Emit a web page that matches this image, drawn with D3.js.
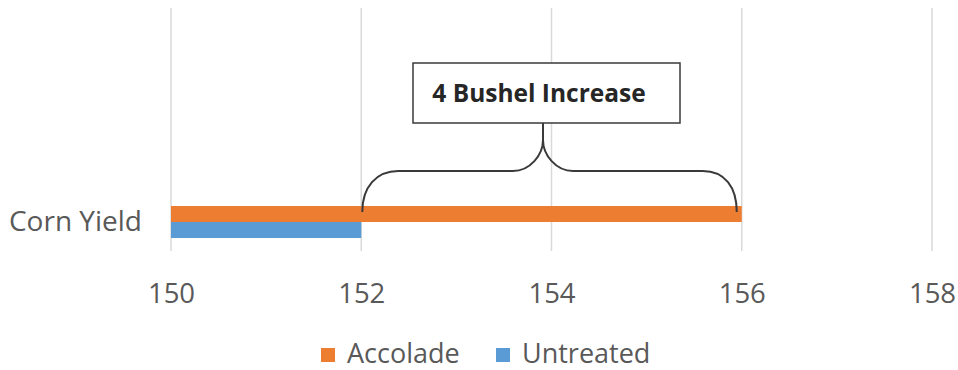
<!DOCTYPE html>
<html>
<head>
<meta charset="utf-8">
<script src="https://cdn.jsdelivr.net/npm/d3@7"></script>
<style>
  html, body { margin: 0; padding: 0; background: #fff; }
  svg { display: block; }
  text { font-family: "Open Sans", "Liberation Sans", sans-serif; }
</style>
</head>
<body>
<svg id="chart" width="958" height="370"></svg>
<script>
const categories = ["Corn Yield"];
const seriesNames = ["Accolade", "Untreated"];
const accoladeValues = [156];
const untreatedValues = [152];
const xTicks = [150, 152, 154, 156, 158];
const annotationText = "4 Bushel Increase";
const colors = ["#ED7D31", "#5B9BD5"];

const svg = d3.select("#chart");
const x = d3.scaleLinear().domain([150, 158]).range([171, 932]);
const gridTop = 8, gridBottom = 251;

const y = d3.scaleBand().domain(categories).range([206, 238]).padding(0);
const ySub = d3.scaleBand().domain(seriesNames).range([0, y.bandwidth()]).padding(0);

// gridlines
svg.append("g").selectAll("line").data(xTicks).join("line")
  .attr("x1", d => x(d)).attr("x2", d => x(d))
  .attr("y1", gridTop).attr("y2", gridBottom)
  .attr("stroke", "#d9d9d9").attr("stroke-width", 1.5);

// x axis labels
const xAxis = d3.axisBottom(x).tickValues(xTicks).tickSize(0).tickPadding(0);
const gx = svg.append("g").attr("transform", `translate(0,${gridBottom + 32})`).call(xAxis);
gx.select(".domain").remove();
gx.selectAll("text").attr("fill", "#595959").attr("font-size", 27.5)
  .attr("font-family", "Open Sans, Liberation Sans, sans-serif").attr("dy", "0.71em");

// category label
const yAxis = d3.axisLeft(y).tickSize(0).tickPadding(29);
const gy = svg.append("g").attr("transform", `translate(${x(150)},0)`).call(yAxis);
gy.select(".domain").remove();
gy.selectAll("text").attr("fill", "#595959").attr("font-size", 28)
  .attr("font-family", "Open Sans, Liberation Sans, sans-serif");

// bars
const rows = categories.map((c, i) => ({ cat: c, vals: [accoladeValues[i], untreatedValues[i]] }));
const g = svg.append("g");
rows.forEach(r => {
  g.selectAll(null).data(seriesNames.map((s, j) => ({ s, v: r.vals[j], j }))).join("rect")
    .attr("x", x(150))
    .attr("y", d => y(r.cat) + ySub(d.s))
    .attr("width", d => x(d.v) - x(150))
    .attr("height", ySub.bandwidth())
    .attr("fill", d => colors[d.j]);
});

// annotation: brace between untreated and accolade values
const xl = x(untreatedValues[0]) + 1;
const xr = x(accoladeValues[0]) - 5;
const xm = 543;
const yEnd = 212, yH = 171, yTip = 140;
const brace = `M${xl},${yEnd} C${xl},${yEnd - 25} ${xl + 14},${yH} ${xl + 36},${yH}
  L${xm - 30},${yH} C${xm - 13},${yH} ${xm},${yH - 16} ${xm},${yTip}
  C${xm},${yH - 16} ${xm + 13},${yH} ${xm + 30},${yH}
  L${xr - 34},${yH} C${xr - 12},${yH} ${xr},${yEnd - 25} ${xr},${yEnd}`;
svg.append("path").attr("d", brace).attr("fill", "none")
  .attr("stroke", "#3a3a3a").attr("stroke-width", 2);
svg.append("line").attr("x1", xm).attr("x2", xm).attr("y1", 123).attr("y2", yTip)
  .attr("stroke", "#3a3a3a").attr("stroke-width", 2);

// annotation box
svg.append("rect").attr("x", 413).attr("y", 63).attr("width", 267).attr("height", 60)
  .attr("fill", "#fff").attr("stroke", "#3a3a3a").attr("stroke-width", 1.5);
svg.append("text").attr("x", 539).attr("y", 93).attr("dy", "0.35em")
  .attr("text-anchor", "middle").attr("font-weight", "bold").attr("font-size", 24.5)
  .attr("fill", "#262626").text(annotationText);

// legend
const legendItems = [{ name: seriesNames[0], color: colors[0], x: 321 }, { name: seriesNames[1], color: colors[1], x: 496 }];
const lg = svg.append("g");
legendItems.forEach(it => {
  lg.append("rect").attr("x", it.x).attr("y", 348).attr("width", 14).attr("height", 14).attr("fill", it.color);
  lg.append("text").attr("x", it.x + 26).attr("y", 363).attr("fill", "#595959")
    .attr("font-size", 27).text(it.name);
});
</script>
</body>
</html>
